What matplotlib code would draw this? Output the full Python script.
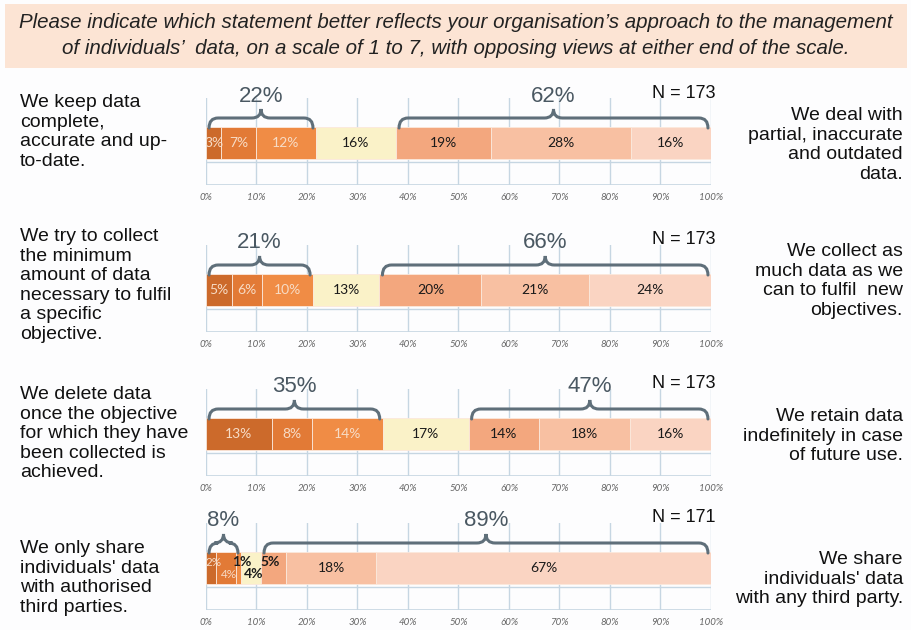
import numpy as np
import matplotlib
matplotlib.use('Agg')
import matplotlib.pyplot as plt
from matplotlib.path import Path
from matplotlib.patches import PathPatch, Rectangle

plt.rcParams['font.family'] = ['Liberation Sans', 'DejaVu Sans']

# data
title_lines = ["Please indicate which statement better reflects your organisation\u2019s approach to the management",
               "of individuals\u2019  data, on a scale of 1 to 7, with opposing views at either end of the scale."]
left_texts = ["We keep data\ncomplete,\naccurate and up-\nto-date.",
              "We try to collect\nthe minimum\namount of data\nnecessary to fulfil\na specific\nobjective.",
              "We delete data\nonce the objective\nfor which they have\nbeen collected is\nachieved.",
              "We only share\nindividuals' data\nwith authorised\nthird parties."]
right_texts = ["We deal with\npartial, inaccurate\nand outdated\ndata.",
               "We collect as\nmuch data as we\ncan to fulfil  new\nobjectives.",
               "We retain data\nindefinitely in case\nof future use.",
               "We share\nindividuals' data\nwith any third party."]
keep_vals = [3, 7, 12, 16, 19, 28, 16]
collect_vals = [5, 6, 10, 13, 20, 21, 24]
delete_vals = [13, 8, 14, 17, 14, 18, 16]
share_vals = [2, 4, 1, 4, 5, 18, 67]
left_totals = [22, 21, 35, 8]
right_totals = [62, 66, 47, 89]
n_values = [173, 173, 173, 171]
tick_labels = ['0%', '10%', '20%', '30%', '40%', '50%', '60%', '70%', '80%', '90%', '100%']

rows = [keep_vals, collect_vals, delete_vals, share_vals]
colors = ['#cc6a2b', '#e27a36', '#f08c45', '#faf2c8', '#f3a77e', '#f8c0a2', '#fad4c2']
light_txt = '#f7dcc6'
dark_txt = '#1a1a1a'
grid_c = '#c6d6e2'
brace_c = '#5f6f7a'
centers = [143, 290, 434, 568]   # bar centres, px from top
left_tops = [94, 228, 386, 540]
right_tops = [107, 243, 408, 551]

W, H = 912, 630
fig = plt.figure(figsize=(9.12, 6.3), dpi=100)
fig.patch.set_facecolor('#fdfdfe')

# title banner
fig.patches.append(Rectangle((5 / W, 1 - 68 / H), 902 / W, 64 / H, transform=fig.transFigure,
                             facecolor='#fce4d4', edgecolor='none', zorder=0))
for i, line in enumerate(title_lines):
    fig.text(0.5, 1 - (22 + 26 * i) / H, line, ha='center', va='center', style='italic',
             fontsize=14.8, color='#222222')


def brace(ax, x0, x1, yb, yB, yP):
    m = (x0 + x1) / 2
    rx = 1.8
    verts = [(x0, yb), (x0, yB), (x0 + rx, yB), (m - rx, yB), (m, yB), (m, yP),
             (m, yB), (m + rx, yB), (x1 - rx, yB), (x1, yB), (x1, yb)]
    codes = [Path.MOVETO, Path.CURVE3, Path.CURVE3, Path.LINETO, Path.CURVE3, Path.CURVE3,
             Path.CURVE3, Path.CURVE3, Path.LINETO, Path.CURVE3, Path.CURVE3]
    ax.add_patch(PathPatch(Path(verts, codes), facecolor='none', edgecolor=brace_c,
                           lw=2.2, capstyle='round', clip_on=False, zorder=5))
    return m


for r, vals in enumerate(rows):
    c = centers[r]
    ax = fig.add_axes([206 / W, 1 - (c + 42) / H, 505 / W, 87 / H])
    ax.set_xlim(0, 100)
    ax.set_ylim(42, -45)
    ax.patch.set_alpha(0)
    for s in ax.spines.values():
        s.set_visible(False)
    ax.set_yticks([])
    ax.set_xticks(np.arange(0, 101, 10))
    ax.set_xticklabels(tick_labels, style='italic', fontsize=7, color='#666666',
                       family=['Lato', 'DejaVu Sans'])
    ax.tick_params(axis='x', length=0, pad=6)
    for x in np.arange(0, 101, 10):
        ax.plot([x, x], [-45, 42], color=grid_c, lw=1, zorder=0)
    ax.plot([0, 100], [19, 19], color=grid_c, lw=1, zorder=0)
    ax.plot([0, 100], [42, 42], color=grid_c, lw=1.2, zorder=0)

    total = sum(vals)
    widths = [v / total * 100 for v in vals]
    lefts = np.cumsum([0] + widths[:-1])
    ax.barh(0, widths, left=lefts, height=32, color=colors, edgecolor='#fbe8dc', lw=0.6, zorder=2)

    for i, v in enumerate(vals):
        xc = lefts[i] + widths[i] / 2
        dy = 0
        col = light_txt if i < 3 else dark_txt
        if r == 3:
            shifts = [(0.5, -6), (0.5, 6), (0.6, -6), (0.6, 6), (-0.6, -6), (0, 0), (0, 0)]
            xc += shifts[i][0]
            dy = shifts[i][1]
            if i == 2:
                col = dark_txt
        ax.text(xc, dy, f'{v}%', ha='center', va='center', fontsize=10 if r < 3 or i > 1 else 8.5,
                color=col, family=['Lato', 'DejaVu Sans'], zorder=4,
                fontweight='bold' if (r == 3 and 2 <= i <= 4) else 'normal')

    n_left = 3
    lg = sum(widths[:n_left])
    rg0 = sum(widths[:4])
    m1 = brace(ax, 0.6, lg - 0.6, -15, -25, -34)
    m2 = brace(ax, rg0 + 0.6, 99.4, -15, -25, -34)
    ax.text(m1, -47, f'{left_totals[r]}%', ha='center', va='center', fontsize=16,
            color='#4a5862', clip_on=False)
    ax.text(m2, -47, f'{right_totals[r]}%', ha='center', va='center', fontsize=16,
            color='#4a5862', clip_on=False)
    fig.text(716 / W, 1 - (c - 50) / H, f'N = {n_values[r]}', ha='right', va='center',
             fontsize=13, color='#111111')

    fig.text(20 / W, 1 - left_tops[r] / H, left_texts[r], ha='left', va='top', fontsize=14,
             linespacing=1.2, color='#111111')
    fig.text(903 / W, 1 - right_tops[r] / H, right_texts[r], ha='right', va='top', fontsize=14,
             linespacing=1.2, color='#111111')

fig.savefig('out.png', dpi=100, facecolor=fig.get_facecolor())
